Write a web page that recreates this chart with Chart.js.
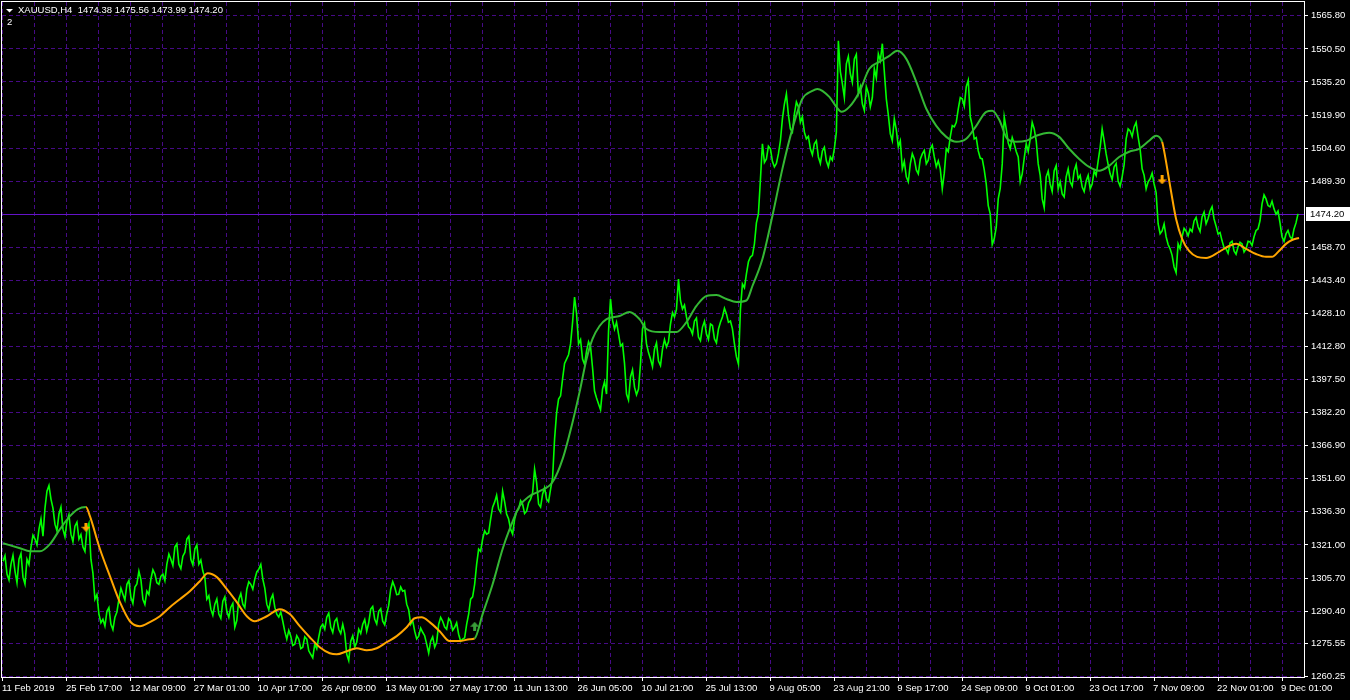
<!DOCTYPE html>
<html>
<head>
<meta charset="utf-8">
<title>XAUUSD,H4</title>
<script src="https://cdn.jsdelivr.net/npm/chart.js@4.4.0/dist/chart.umd.min.js"></script>
<style>
  html, body { margin: 0; padding: 0; background: #000; }
  #wrap { width: 1350px; height: 700px; }
</style>
</head>
<body>
<div id="wrap"><canvas id="chart" width="1350" height="700"></canvas></div>
<script>
// header of the chart window
const symbol = 'XAUUSD,H4';
const lastBar = [1474.38, 1475.56, 1473.99, 1474.20]; // open high low close
const lastPrice = 1474.20;
const indicatorLabel = '2';

// closes, one every 2 H4 bars
const closeStep = 2;
const closes = [
  1313.5, 1316.0, 1307.5, 1304.8, 1312.1, 1316.2, 1308.9, 1303.5, 1314.4, 1317.0, 1306.1, 1302.9, 1314.4, 1312.0, 1320.0, 1325.5, 1323.7, 1321.0, 1328.3, 1333.0, 1325.1, 1338.0, 1345.9, 1348.5, 1342.2,
  1338.0, 1330.6, 1327.5, 1335.3, 1338.5, 1328.3, 1324.8, 1332.0, 1335.0, 1326.0, 1322.5, 1329.7, 1331.5, 1323.7, 1325.8, 1320.0, 1318.0, 1328.3, 1331.0, 1314.4, 1308.0, 1295.9, 1298.0, 1289.0, 1285.0,
  1286.6, 1283.5, 1290.3, 1292.0, 1284.3, 1281.8, 1287.6, 1290.0, 1295.9, 1301.0, 1298.2, 1295.5, 1302.8, 1304.5, 1296.8, 1294.0, 1301.5, 1303.0, 1308.9, 1305.0, 1295.9, 1293.5, 1299.6, 1298.0, 1305.2,
  1309.5, 1307.5, 1303.5, 1302.8, 1306.5, 1307.5, 1304.5, 1312.1, 1316.8, 1314.4, 1311.5, 1320.0, 1321.5, 1312.1, 1310.0, 1315.8, 1317.5, 1323.7, 1325.0, 1314.4, 1311.8, 1319.1, 1321.0, 1312.1, 1314.0,
  1308.9, 1306.0, 1295.9, 1297.5, 1291.3, 1288.5, 1293.6, 1296.0, 1289.0, 1287.0, 1295.0, 1297.0, 1290.3, 1287.5, 1292.2, 1294.0, 1282.9, 1286.0, 1295.9, 1298.5, 1293.6, 1292.0, 1300.5, 1304.0, 1302.8,
  1300.5, 1305.2, 1308.5, 1309.8, 1312.0, 1305.2, 1301.0, 1293.6, 1291.0, 1295.9, 1298.0, 1292.2, 1289.0, 1287.6, 1290.0, 1285.7, 1281.0, 1277.4, 1281.5, 1278.8, 1274.5, 1275.1, 1279.0, 1277.4, 1273.0,
  1273.7, 1278.5, 1277.4, 1272.0, 1270.4, 1268.8, 1275.1, 1273.0, 1278.3, 1283.0, 1284.3, 1282.0, 1287.6, 1289.5, 1282.9, 1280.5, 1285.7, 1287.0, 1282.0, 1280.0, 1284.3, 1280.0, 1270.4, 1267.5, 1276.5,
  1279.0, 1273.7, 1276.0, 1282.0, 1280.0, 1284.3, 1286.5, 1281.1, 1285.0, 1291.3, 1292.5, 1286.6, 1284.5, 1290.3, 1291.5, 1285.7, 1284.0, 1289.0, 1293.0, 1300.5, 1304.0, 1301.5, 1298.0, 1298.2, 1301.5,
  1299.6, 1300.0, 1293.6, 1291.0, 1284.3, 1286.0, 1281.1, 1277.5, 1278.8, 1282.5, 1280.6, 1279.0, 1275.1, 1271.0, 1276.5, 1278.5, 1273.7, 1276.0, 1284.3, 1287.5, 1285.7, 1283.0, 1282.0, 1287.0, 1285.7,
  1281.5, 1282.9, 1285.0, 1279.7, 1276.5, 1277.4, 1278.0, 1284.3, 1289.0, 1295.9, 1297.0, 1302.8, 1312.0, 1319.1, 1318.0, 1323.7, 1327.5, 1326.0, 1326.5, 1332.9, 1338.5, 1340.8, 1344.0, 1337.6, 1336.0,
  1345.9, 1341.0, 1335.3, 1333.0, 1328.3, 1326.0, 1332.9, 1336.5, 1337.6, 1341.5, 1339.9, 1335.5, 1336.6, 1340.5, 1342.2, 1345.0, 1356.1, 1350.0, 1339.9, 1338.5, 1344.5, 1347.5, 1342.2, 1341.0, 1346.8,
  1352.0, 1370.0, 1382.0, 1388.5, 1390.0, 1397.8, 1405.0, 1407.0, 1409.0, 1414.0, 1424.0, 1435.7, 1428.0, 1414.0, 1416.0, 1407.0, 1404.5, 1410.7, 1415.0, 1412.6, 1403.0, 1392.2, 1389.0, 1386.2, 1383.5,
  1393.1, 1396.5, 1390.8, 1420.0, 1434.8, 1425.0, 1420.9, 1424.0, 1418.6, 1413.0, 1414.0, 1405.0, 1390.8, 1388.0, 1398.7, 1402.0, 1394.0, 1390.5, 1393.1, 1405.0, 1420.9, 1423.5, 1414.0, 1410.0, 1407.0,
  1403.5, 1411.6, 1414.5, 1406.1, 1404.0, 1411.6, 1416.0, 1412.6, 1415.0, 1423.2, 1428.5, 1426.5, 1430.0, 1444.0, 1434.0, 1430.2, 1432.0, 1426.5, 1422.0, 1420.9, 1418.5, 1424.6, 1426.0, 1417.2, 1415.5,
  1421.8, 1424.5, 1418.6, 1416.0, 1423.2, 1422.5, 1416.3, 1414.5, 1420.9, 1424.0, 1426.5, 1430.5, 1427.9, 1424.0, 1424.6, 1421.0, 1414.0, 1408.0, 1404.7, 1430.0, 1441.7, 1440.0, 1446.4, 1452.0, 1454.2,
  1455.0, 1460.3, 1470.0, 1474.2, 1490.0, 1506.6, 1498.0, 1499.6, 1505.5, 1504.3, 1498.5, 1495.9, 1497.5, 1501.9, 1508.0, 1518.1, 1525.0, 1529.7, 1520.0, 1513.5, 1512.0, 1520.5, 1526.0, 1523.7, 1516.5,
  1519.1, 1512.0, 1508.9, 1510.0, 1504.3, 1501.5, 1506.6, 1508.0, 1500.5, 1497.5, 1503.3, 1505.0, 1498.7, 1496.0, 1500.5, 1499.0, 1504.3, 1512.0, 1554.3, 1540.0, 1534.4, 1528.0, 1543.6, 1547.0, 1539.0,
  1535.0, 1545.9, 1548.0, 1529.7, 1533.0, 1525.1, 1522.0, 1533.0, 1530.0, 1523.7, 1528.0, 1541.3, 1537.0, 1548.2, 1545.0, 1552.9, 1540.0, 1527.4, 1520.0, 1511.2, 1508.0, 1518.1, 1513.0, 1505.2, 1508.0,
  1495.0, 1498.5, 1491.3, 1489.0, 1497.3, 1502.0, 1499.6, 1494.5, 1492.7, 1499.5, 1501.9, 1503.5, 1497.3, 1499.0, 1504.3, 1506.0, 1500.5, 1496.0, 1498.7, 1495.0, 1485.7, 1493.0, 1504.3, 1503.0, 1509.8,
  1515.0, 1514.4, 1516.5, 1522.8, 1528.0, 1527.4, 1524.0, 1533.0, 1536.0, 1519.1, 1515.0, 1508.9, 1509.5, 1503.3, 1500.0, 1499.6, 1494.5, 1488.0, 1478.0, 1474.2, 1460.0, 1462.6, 1468.0, 1481.1, 1486.0,
  1497.3, 1519.0, 1513.5, 1507.0, 1504.3, 1509.5, 1506.6, 1503.0, 1500.5, 1489.0, 1492.7, 1500.0, 1506.6, 1503.0, 1508.9, 1516.5, 1513.5, 1508.0, 1497.3, 1492.0, 1481.1, 1477.0, 1491.3, 1494.0, 1488.0,
  1484.5, 1494.1, 1496.5, 1485.7, 1489.0, 1483.4, 1482.0, 1491.3, 1495.0, 1489.0, 1487.0, 1494.1, 1497.0, 1490.4, 1492.0, 1486.6, 1484.5, 1489.4, 1492.0, 1485.7, 1488.0, 1494.1, 1492.0, 1498.7, 1505.0,
  1513.5, 1508.0, 1501.9, 1497.0, 1492.7, 1490.0, 1495.9, 1497.5, 1489.4, 1487.0, 1491.3, 1497.0, 1508.9, 1513.5, 1512.6, 1510.0, 1514.4, 1516.5, 1509.8, 1504.0, 1495.0, 1492.0, 1485.7, 1489.0, 1490.4,
  1493.0, 1488.0, 1484.0, 1469.6, 1465.0, 1466.3, 1469.5, 1463.6, 1460.0, 1458.0, 1455.0, 1449.6, 1447.0, 1460.3, 1458.0, 1463.6, 1467.5, 1466.3, 1464.0, 1467.2, 1466.0, 1470.9, 1472.5, 1468.2, 1466.0,
  1472.8, 1475.0, 1469.6, 1472.0, 1475.5, 1477.5, 1471.8, 1468.5, 1464.9, 1465.5, 1461.7, 1458.5, 1458.0, 1456.0, 1460.7, 1461.5, 1457.0, 1455.5, 1458.9, 1461.0, 1460.3, 1456.5, 1458.0, 1461.5, 1461.2,
  1459.5, 1463.6, 1466.5, 1467.2, 1471.0, 1478.8, 1483.0, 1481.1, 1478.0, 1477.4, 1480.0, 1476.5, 1474.0, 1475.5, 1470.0, 1463.6, 1461.5, 1464.9, 1466.5, 1463.6, 1462.5, 1467.2, 1470.0, 1474.2
];

// moving average, read at these bar numbers
const maBars = [
  0, 17, 27, 37, 47, 57, 67, 75, 83, 87, 97, 107, 117, 127, 137, 147, 157, 167, 177, 187, 197, 205, 214, 224, 234,
  244, 252, 264, 277, 287, 297, 307, 317, 327, 334, 344, 354, 364, 374, 384, 394, 404, 412, 419, 427, 437, 447, 457, 467, 472,
  480, 490, 500, 507, 517, 527, 537, 550, 560, 570, 577, 584, 590, 597, 604, 617, 627, 637, 644, 657, 674, 684, 694, 704, 714,
  724, 734, 744, 750, 760, 770, 780, 790, 800, 810, 815, 827, 834, 839, 847, 857, 867, 877, 887, 895, 904, 914, 924, 934, 944,
  954, 964, 974, 984, 990, 997, 1005, 1014, 1024, 1034, 1047, 1057, 1067, 1077, 1087, 1097, 1107, 1117, 1127, 1137, 1147, 1154, 1160, 1162, 1169,
  1174, 1180, 1187, 1195, 1204, 1217, 1227, 1234, 1244, 1254, 1264, 1270, 1277, 1284, 1290, 1297
];
const maValues = [
  1321.8, 1319.5, 1318.1, 1318.1, 1321.4, 1328.3, 1334.3, 1337.6, 1338.5, 1334.3, 1319.1, 1306.6, 1294.5, 1285.7, 1283.4, 1285.3, 1288.0, 1292.2, 1295.9, 1299.6, 1304.2, 1307.9, 1306.1, 1300.5, 1294.5,
  1288.0, 1285.7, 1288.0, 1291.3, 1289.0, 1283.4, 1278.3, 1273.7, 1270.9, 1270.4, 1271.8, 1273.2, 1272.3, 1273.2, 1276.0, 1278.8, 1282.9, 1287.1, 1287.5, 1285.3, 1281.1, 1276.5, 1276.5, 1277.4, 1277.8,
  1289.0, 1302.8, 1319.1, 1328.3, 1339.0, 1343.6, 1345.9, 1350.1, 1360.7, 1377.8, 1391.7, 1407.0, 1416.3, 1422.3, 1425.5, 1426.9, 1428.8, 1425.5, 1420.9, 1419.5, 1419.5, 1424.1, 1431.6, 1436.2, 1436.6,
  1434.8, 1433.4, 1434.1, 1440.8, 1453.3, 1473.2, 1495.0, 1513.5, 1527.4, 1531.1, 1532.0, 1528.3, 1523.7, 1521.4, 1523.7, 1530.6, 1541.3, 1544.5, 1547.3, 1549.6, 1545.9, 1535.3, 1522.8, 1514.9, 1509.8,
  1507.5, 1508.9, 1514.9, 1521.4, 1521.9, 1517.7, 1508.9, 1507.5, 1508.0, 1510.3, 1511.7, 1509.8, 1504.3, 1499.6, 1495.9, 1494.1, 1496.4, 1500.5, 1502.9, 1504.3, 1508.0, 1510.3, 1507.5, 1503.3, 1484.4,
  1471.8, 1462.6, 1457.0, 1454.3, 1453.8, 1456.6, 1459.3, 1460.3, 1458.0, 1455.6, 1454.3, 1454.3, 1457.0, 1460.3, 1462.1, 1463.0
];

// trend signals (arrows); the average takes the signal colour from there on
const signalBars = [83, 472, 1160];
const signalPrices = [1329.2, 1283.4, 1489.9];
const signalDirs = ['down', 'up', 'down'];

// axes
const xTickLabels = [
  '11 Feb 2019', '25 Feb 17:00', '12 Mar 09:00', '27 Mar 01:00', '10 Apr 17:00', '26 Apr 09:00', '13 May 01:00',
  '27 May 17:00', '11 Jun 13:00', '26 Jun 05:00', '10 Jul 21:00', '25 Jul 13:00', '9 Aug 05:00', '23 Aug 21:00',
  '9 Sep 17:00', '24 Sep 09:00', '9 Oct 01:00', '23 Oct 17:00', '7 Nov 09:00', '22 Nov 01:00', '9 Dec 01:00'
];
const xLabelEvery = 64;  // bars between date labels
const yTickLabels = [
  '1260.25', '1275.55', '1290.40', '1305.70', '1321.00', '1336.30', '1351.60', '1366.90', '1382.20', '1397.50',
  '1412.80', '1428.10', '1443.40', '1458.70', '1489.30', '1504.60', '1519.90', '1535.20', '1550.50', '1565.80'
];

const GRID = '#460a86';
const BID_LINE = '#6414c8';
const PRICE_GREEN = '#00ff00';
const MA_GREEN = '#34b834';
const MA_ORANGE = '#ffa500';
const ARROW_UP = '#3a9e3a';
const FONT_SIZE = 9.5;
const FONT = FONT_SIZE + 'px "Liberation Sans", Arial, sans-serif';

function trendAt(bar) {
  let dir = 'up';
  signalBars.forEach((b, i) => { if (bar >= b) dir = signalDirs[i]; });
  return dir;
}

function makeArrow(color, down) {
  const c = document.createElement('canvas');
  c.width = 9; c.height = 9;
  const g = c.getContext('2d');
  g.fillStyle = color;
  g.beginPath();
  if (down) {
    g.moveTo(0, 4); g.lineTo(9, 4); g.lineTo(4.5, 9);
  } else {
    g.moveTo(0, 5); g.lineTo(9, 5); g.lineTo(4.5, 0);
  }
  g.closePath();
  g.fill();
  if (down) g.fillRect(3, 0, 3, 4); else g.fillRect(3, 5, 3, 4);
  return c;
}
const arrowDown = makeArrow(MA_ORANGE, true);
const arrowUp = makeArrow(ARROW_UP, false);

const priceData = closes.map((v, i) => ({ x: i * closeStep, y: v }));
const maData = maBars.map((b, i) => ({ x: b, y: maValues[i] }));
const signalData = signalBars.map((b, i) => ({ x: b, y: signalPrices[i] }));

const mtFrame = {
  id: 'mtFrame',
  beforeDatasetsDraw(chart) {
    const { ctx, chartArea: a, scales } = chart;
    const py = Math.round(scales.y.getPixelForValue(lastPrice)) + 0.5;
    ctx.save();
    ctx.strokeStyle = BID_LINE;
    ctx.lineWidth = 1;
    ctx.beginPath();
    ctx.moveTo(a.left, py);
    ctx.lineTo(a.right, py);
    ctx.stroke();
    ctx.restore();
  },
  afterDraw(chart) {
    const { ctx, chartArea: a, scales } = chart;
    ctx.save();
    // white frame
    ctx.strokeStyle = '#ffffff';
    ctx.lineWidth = 1;
    ctx.strokeRect(a.left - 0.5, a.top - 0.5, a.right - a.left + 1, a.bottom - a.top + 1);

    // current price box
    const py = Math.round(scales.y.getPixelForValue(lastPrice));
    ctx.fillStyle = '#ffffff';
    ctx.fillRect(a.right + 2, py - 7, 44, 14);
    ctx.fillStyle = '#000000';
    ctx.font = FONT;
    ctx.textBaseline = 'middle';
    ctx.textAlign = 'left';
    ctx.fillText(lastPrice.toFixed(2), a.right + 6, py + 0.5);

    // header
    ctx.fillStyle = '#ffffff';
    ctx.beginPath();
    ctx.moveTo(6, 9); ctx.lineTo(13, 9); ctx.lineTo(9.5, 12.5);
    ctx.closePath();
    ctx.fill();
    ctx.fillText(symbol + '  ' + lastBar.map(v => v.toFixed(2)).join(' '), 18, 10.5);
    ctx.fillText(indicatorLabel, 7, 22.5);
    ctx.restore();
  }
};

Chart.defaults.font.family = '"Liberation Sans", Arial, sans-serif';
Chart.defaults.font.size = FONT_SIZE;

new Chart(document.getElementById('chart'), {
  type: 'line',
  data: {
    datasets: [
      {
        label: 'signals',
        data: signalData,
        showLine: false,
        pointStyle: ctx => signalDirs[ctx.dataIndex] === 'down' ? arrowDown : arrowUp,
        pointRadius: 5,
        order: 0
      },
      {
        label: 'MA',
        data: maData,
        borderColor: MA_GREEN,
        borderWidth: 2,
        pointRadius: 0,
        cubicInterpolationMode: 'monotone',
        segment: {
          borderColor: ctx => trendAt(ctx.p0.parsed.x) === 'down' ? MA_ORANGE : MA_GREEN
        },
        order: 1
      },
      {
        label: symbol,
        data: priceData,
        borderColor: PRICE_GREEN,
        borderWidth: 1.6,
        pointRadius: 0,
        tension: 0,
        order: 2
      }
    ]
  },
  options: {
    responsive: false,
    animation: false,
    devicePixelRatio: 1,
    layout: { autoPadding: false, padding: { left: 2, top: 2, right: 0, bottom: 0 } },
    plugins: {
      legend: { display: false },
      tooltip: { enabled: false }
    },
    scales: {
      x: {
        type: 'linear',
        min: -1,
        max: 1302,
        afterBuildTicks: scale => {
          const t = [];
          for (let b = 0; b <= 1302; b += xLabelEvery / 2) t.push({ value: b });
          scale.ticks = t;
        },
        afterFit: scale => {
          scale.height = 23;
          scale.paddingLeft = 0;
          scale.paddingRight = 0;
        },
        ticks: {
          autoSkip: false,
          maxRotation: 0,
          minRotation: 0,
          align: 'start',
          labelOffset: -1,
          color: '#ffffff',
          padding: 2,
          callback: (v, i) => (i % 2 ? '' : xTickLabels[i / 2])
        },
        grid: {
          color: GRID,
          tickColor: c => (c.index % 2 ? 'rgba(0,0,0,0)' : '#ffffff'),
          tickLength: 4
        },
        border: { display: false, dash: [4, 3] }
      },
      y: {
        type: 'linear',
        position: 'right',
        min: 1259.9,
        max: 1572.2,
        afterBuildTicks: scale => {
          scale.ticks = yTickLabels.map(t => ({ value: parseFloat(t) }));
        },
        afterFit: scale => {
          scale.width = 46;
          scale.paddingTop = 0;
          scale.paddingBottom = 0;
        },
        ticks: {
          color: '#ffffff',
          padding: 3,
          callback: (v, i) => yTickLabels[i]
        },
        grid: {
          color: GRID,
          tickColor: '#ffffff',
          tickLength: 4
        },
        border: { display: false, dash: [4, 3] }
      }
    }
  },
  plugins: [mtFrame]
});
</script>
</body>
</html>
